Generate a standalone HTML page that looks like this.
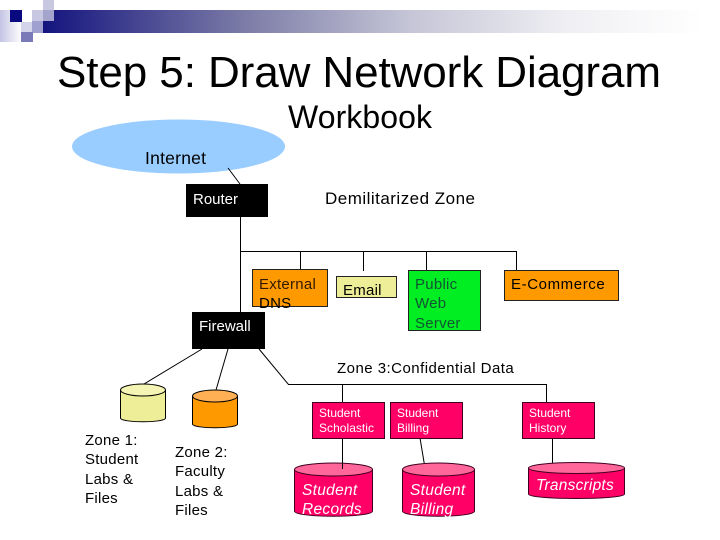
<!DOCTYPE html>
<html><head><meta charset="utf-8"><style>
html,body{margin:0;padding:0;background:#fff}
svg{display:block}
text{font-family:"Liberation Sans",sans-serif;fill:#000}
.s{font-size:15px;letter-spacing:.25px}
.x{font-size:12px;fill:#fff}
.w{fill:#fff;font-size:15px}
.i{font-size:15.5px;fill:#fff;font-style:italic;letter-spacing:.3px}
</style></head><body>
<svg width="720" height="540" viewBox="0 0 720 540" xmlns="http://www.w3.org/2000/svg">
<defs>
<linearGradient id="b" x1="0" x2="1" y1="0" y2="0"><stop offset="0" stop-color="#14147f"/><stop offset=".3" stop-color="#7a7aa6"/><stop offset=".55" stop-color="#c4c4d6"/><stop offset=".8" stop-color="#f0f0f4"/><stop offset="1" stop-color="#fff"/></linearGradient>
<linearGradient id="l" x1="0" x2="1" y1="0" y2="0"><stop offset="0" stop-color="#c4c4e4"/><stop offset="1" stop-color="#fff"/></linearGradient>
</defs>
<rect x="43" y="10" width="660" height="23" fill="url(#b)"/>
<rect x="0" y="10" width="22" height="32" fill="url(#l)"/>
<rect x="10" y="10" width="12" height="12" fill="#0a0a80"/>
<rect x="32" y="10" width="11" height="11" fill="#c8c8e2"/>
<rect x="43" y="0" width="11" height="21" fill="#c8c8e0"/>
<rect x="43" y="10" width="11" height="11" fill="#a4a4cc"/>
<rect x="21" y="22" width="11" height="20" fill="#d4d4ea"/>
<rect x="32" y="21" width="11" height="12" fill="#a0a0d0"/>
<rect x="21" y="32" width="12" height="10" fill="#7a7ab8"/>

<text x="57" y="87" font-size="44" textLength="604">Step 5: Draw Network Diagram</text>
<text x="288" y="128" font-size="32" textLength="144">Workbook</text>

<ellipse cx="178.500" cy="146.500" rx="106.500" ry="27" fill="#99ccff"/>
<text x="145" y="164" font-size="17.500" textLength="61">Internet</text>
<text x="325" y="204" font-size="17" textLength="150">Demilitarized Zone</text>

<g stroke="#000" stroke-width="1" fill="none">
<path d="M228 168L240 184M240.500 217V312M240.500 251.500H516.500V270M300.500 251.500V270M363.500 251.500V271M426.500 251.500V270"/>
<path d="M259 349L288.500 384.500H546.500V402M342.500 384.500V402M342.500 438V469M420 438L425 468M552.500 438V463"/>
<path d="M202 349L144 384M228 349L216 390"/>
</g>

<rect x="186" y="184" width="82" height="33" fill="#000"/>
<text x="193" y="204" class="w">Router</text>

<rect x="252.500" y="269.500" width="75" height="37" fill="#ff9900" stroke="#222"/>
<text x="259" y="289" class="s" style="fill:#331a00">External</text>
<text x="259" y="308" class="s">DNS</text>
<rect x="336.500" y="276.500" width="60" height="21" fill="#eeee99" stroke="#222"/>
<text x="343" y="295" class="s">Email</text>
<rect x="408.500" y="270.500" width="72" height="60" fill="#00ee22" stroke="#222"/>
<text x="415" y="289" class="s" style="fill:#153">Public</text>
<text x="415" y="308" class="s" style="fill:#153">Web</text>
<text x="415" y="328" class="s" style="fill:#153">Server</text>
<rect x="504.500" y="270.500" width="114" height="30" fill="#ff9900" stroke="#222"/>
<text x="511" y="289" class="s" textLength="94">E-Commerce</text>

<rect x="192" y="312" width="73" height="37" fill="#000"/>
<text x="199" y="331" class="w">Firewall</text>
<text x="337" y="373" class="s" textLength="177">Zone 3:Confidential Data</text>

<g stroke="#000" stroke-width="1">
<path d="M120.500 390V418C120.500 423 165.500 423 165.500 418V390Z" fill="#eeee99"/>
<ellipse cx="143" cy="390" rx="22.500" ry="6" fill="#f4f4b4"/>
<path d="M192.500 396V424C192.500 429 237.500 429 237.500 424V396Z" fill="#ff9900"/>
<ellipse cx="215" cy="396" rx="22.500" ry="6" fill="#ffb055"/>
</g>
<text x="85" y="445" class="s">Zone 1:</text>
<text x="85" y="464" class="s">Student</text>
<text x="85" y="484" class="s">Labs &amp;</text>
<text x="85" y="503" class="s">Files</text>
<text x="175" y="457" class="s">Zone 2:</text>
<text x="175" y="476" class="s">Faculty</text>
<text x="175" y="496" class="s">Labs &amp;</text>
<text x="175" y="515" class="s">Files</text>

<g fill="#ff0066" stroke="#400020" stroke-width="1">
<rect x="312.500" y="402.500" width="72" height="36"/>
<rect x="390.500" y="402.500" width="72" height="36"/>
<rect x="522.500" y="402.500" width="72" height="36"/>
</g>
<text x="319" y="417" class="x">Student</text><text x="319" y="432" class="x" textLength="55">Scholastic</text>
<text x="397" y="417" class="x">Student</text><text x="397" y="432" class="x">Billing</text>
<text x="529" y="417" class="x">Student</text><text x="529" y="432" class="x">History</text>

<g stroke="#400020" stroke-width="1">
<path d="M294.500 469.500V511C294.500 518 372.500 518 372.500 511V469.500Z" fill="#ff0066"/>
<ellipse cx="333.500" cy="469.500" rx="39" ry="6.500" fill="#ff6699"/>
<path d="M402.500 469.500V511C402.500 518 474.500 518 474.500 511V469.500Z" fill="#ff0066"/>
<ellipse cx="438.500" cy="469.500" rx="36" ry="6.500" fill="#ff6699"/>
<path d="M528.500 468V494C528.500 500 624.500 500 624.500 494V468Z" fill="#ff0066"/>
<ellipse cx="576.500" cy="468" rx="48" ry="5.500" fill="#ff6699"/>
</g>
<path d="M342.500 462V469" stroke="#000"/>
<path d="M552.500 462V463" stroke="#000"/>
<text x="302" y="495" class="i">Student</text>
<text x="302" y="514" class="i">Records</text>
<text x="410" y="495" class="i">Student</text>
<text x="410" y="514" class="i">Billing</text>
<text x="536" y="490" class="i" textLength="78">Transcripts</text>
</svg>
</body></html>
